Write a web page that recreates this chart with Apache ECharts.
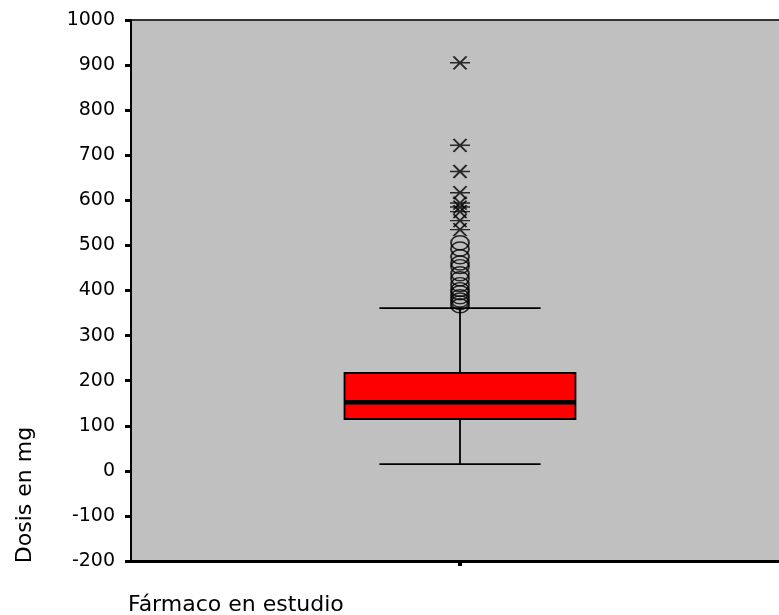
<!DOCTYPE html>
<html>
<head>
<meta charset="utf-8">
<script src="https://cdn.jsdelivr.net/npm/echarts@6/dist/echarts.min.js"></script>
<style>
  html, body { margin: 0; padding: 0; background: #ffffff; overflow: hidden; }
  #chart { width: 800px; height: 615px; }
</style>
</head>
<body>
<div id="chart"></div>
<script>
// Dose distribution for the study drug
const categories = ['Fármaco en estudio'];
// [lower whisker, Q1, median, Q3, upper whisker]
const boxStats = [15, 115, 152, 217, 361];
// outliers (circles)
const mildOutliers = [506, 492, 475, 461, 453, 437, 426, 413, 402, 395, 386, 379, 373, 366];
// extreme values (asterisks)
const extremeOutliers = [905, 722, 664, 617, 594, 585, 575, 555, 535];
const yMin = -200, yMax = 1000, yStep = 100;
const xTitle = 'Fármaco en estudio';
const yTitle = 'Dosis en mg';

const FONT = 'DejaVu Sans';
const chart = echarts.init(document.getElementById('chart'), null, { renderer: 'canvas' });

const starPath = 'path://M0,6.5L20,6.5M3.5,0L16.5,13M16.5,0L3.5,13';
const ellipsePath = 'path://M0,50A50,50,0,1,1,100,50A50,50,0,1,1,0,50Z';

function renderBox(params, api) {
  const x = api.value(0);
  const lo = api.coord([x, api.value(1)]);
  const q1 = api.coord([x, api.value(2)]);
  const md = api.coord([x, api.value(3)]);
  const q3 = api.coord([x, api.value(4)]);
  const hi = api.coord([x, api.value(5)]);
  const band = api.size([1, 0])[0];
  const bw = band * 0.351;
  const cw = band * 0.245;
  const cx = md[0];
  const thin = { stroke: '#000', lineWidth: 1.8 };
  return {
    type: 'group',
    children: [
      { type: 'line', shape: { x1: cx, y1: hi[1], x2: cx, y2: q3[1] }, style: thin },
      { type: 'line', shape: { x1: cx, y1: lo[1], x2: cx, y2: q1[1] }, style: thin },
      { type: 'line', shape: { x1: cx - cw / 2, y1: hi[1], x2: cx + cw / 2, y2: hi[1] }, style: thin },
      { type: 'line', shape: { x1: cx - cw / 2, y1: lo[1], x2: cx + cw / 2, y2: lo[1] }, style: thin },
      { type: 'rect', shape: { x: cx - bw / 2, y: q3[1], width: bw, height: q1[1] - q3[1] },
        style: { fill: '#ff0000', stroke: '#000', lineWidth: 1.8 } },
      { type: 'line', shape: { x1: cx - bw / 2, y1: md[1], x2: cx + bw / 2, y2: md[1] },
        style: { stroke: '#000', lineWidth: 4.5 } }
    ]
  };
}

const option = {
  backgroundColor: '#ffffff',
  animation: false,
  grid: {
    left: 131, top: 20, width: 658, height: 541,
    show: true, backgroundColor: '#c0c0c0', borderColor: '#333333', borderWidth: 2
  },
  xAxis: {
    type: 'category',
    data: categories,
    boundaryGap: true,
    axisLine: { show: true, onZero: false, lineStyle: { color: '#000', width: 3 } },
    axisTick: { show: true, alignWithLabel: true, length: 5, lineStyle: { color: '#000', width: 4 } },
    axisLabel: { show: false },
    splitLine: { show: false }
  },
  yAxis: {
    type: 'value',
    min: yMin, max: yMax, interval: yStep,
    axisLine: { show: true, lineStyle: { color: '#000', width: 2 } },
    axisTick: { show: true, length: 6, lineStyle: { color: '#000', width: 3 } },
    axisLabel: { color: '#000', fontFamily: FONT, fontSize: 19, margin: 16, formatter: v => String(v) },
    splitLine: { show: false }
  },
  series: [
    {
      type: 'custom',
      renderItem: renderBox,
      encode: { x: 0, y: [1, 2, 3, 4, 5] },
      data: [[0].concat(boxStats)],
      z: 2
    },
    {
      type: 'scatter',
      symbol: ellipsePath,
      symbolSize: [18, 14],
      itemStyle: { color: 'transparent', borderColor: '#000', borderWidth: 1.6 },
      data: mildOutliers.map(v => [0, v]),
      z: 3
    },
    {
      type: 'scatter',
      symbol: starPath,
      symbolSize: [20, 13],
      itemStyle: { color: 'transparent', borderColor: '#000', borderWidth: 1.8 },
      data: extremeOutliers.map(v => [0, v]),
      z: 3
    }
  ],
  graphic: [
    {
      type: 'text',
      x: 128, y: 605,
      style: { text: xTitle, fill: '#000', font: '22px "' + FONT + '"', align: 'left', verticalAlign: 'middle' }
    },
    {
      type: 'text',
      x: 25, y: 495,
      rotation: Math.PI / 2,
      style: { text: yTitle, fill: '#000', font: '22px "' + FONT + '"', align: 'center', verticalAlign: 'middle' }
    }
  ]
};

chart.setOption(option);
</script>
</body>
</html>
